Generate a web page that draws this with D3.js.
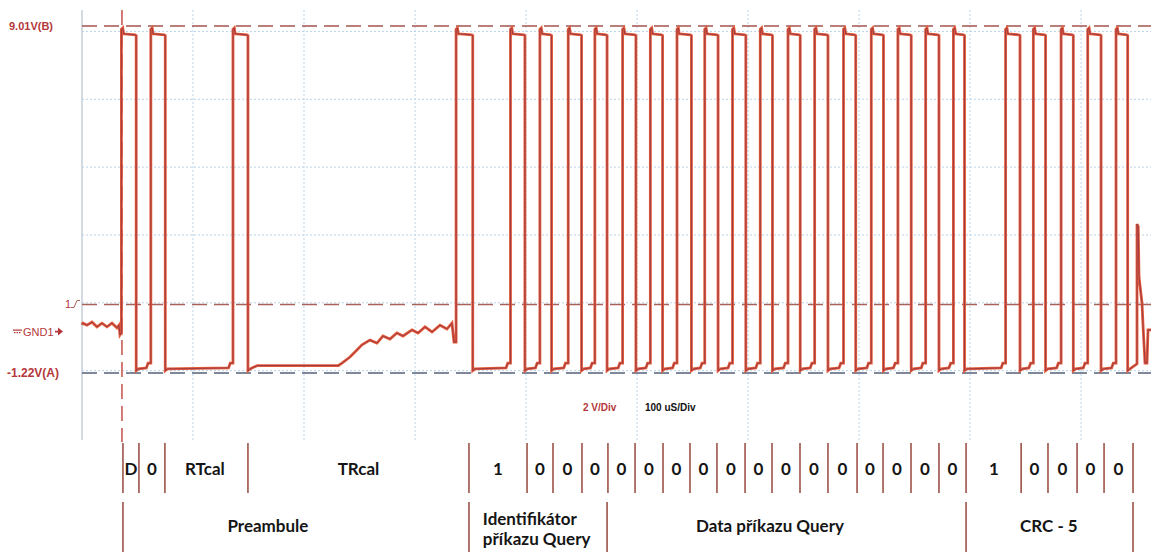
<!DOCTYPE html>
<html lang="cs">
<head>
<meta charset="UTF-8">
<title>Query příkaz - průběh</title>
<script src="https://d3js.org/d3.v7.min.js"></script>
<style>
  body { margin: 0; background: #fff; }
  .lbl { font-family: Lato, "Open Sans", sans-serif; font-weight: 700; font-size: 17px; fill: #151515; }
  .scope { font-family: "Liberation Sans", Arial, sans-serif; font-weight: 700; font-size: 11px; fill: #b4373a; }
</style>
</head>
<body>
<script>
// time in uS (0 = trigger), voltage in V
var preNoise = [[-36, 0.2], [-35.1, 0.25], [-31.5, 0.19], [-27, 0.28], [-22.5, 0.14], [-18, 0.25],
  [-13.5, 0.14], [-9, 0.25], [-4.5, 0.11], [-2.7, 0.19], [-1.8, -0.1], [-0.8, -0.05]];

// [rise, fall] of every high pulse
var pulses = [[-0.5, 12.8], [26, 39], [100, 113.5], [301, 316], [350, 363], [376.5, 387], [402, 414],
  [426, 437], [451, 463], [476, 487], [500, 513], [525, 537], [550, 562], [575, 586], [600, 611],
  [624, 636], [650, 661], [675, 686], [699, 711], [724, 736], [749, 759], [796, 809], [821, 832],
  [846, 857], [870, 882], [895.5, 906]];

var highV = 8.83, lowStartV = -1.1, lowEndV = -0.93;

// slow rise during TRcal (after 3rd pulse)
var trcalRamp = [[118, -1.06], [122, -1.0], [195, -1.0], [198.2, -0.93], [205.4, -0.75], [211.7, -0.54],
  [216.2, -0.39], [223.4, -0.25], [229.7, -0.34], [235.1, -0.13], [241.4, -0.22], [247.7, -0.04],
  [253.2, -0.13], [261.3, 0.05], [266.7, -0.04], [273, 0.14], [279.3, -0.01], [286.5, 0.19],
  [292.8, 0.08], [297.3, 0.25], [299.1, -0.31]];

var tail = [[914.4, -0.95], [914.4, 3.17], [915.5, 3.1], [916.2, 1.61], [918.9, 0.84], [919.8, 0.2],
  [921.6, -0.93], [923.4, -0.93], [924.3, 0.05], [927, 0.05]];

// bit annotation
var bitBounds = [0.9, 15.3, 38.7, 113.5, 312.6, 364.9, 388.3, 414.4, 437.8, 462.2, 487.4, 511.7, 536,
  561.3, 585.6, 610.8, 636, 662.2, 685.6, 710.8, 736, 760.4, 810, 834.2, 860.4, 884.7, 910.8];
var bitLabels = ["D", "0", "RTcal", "TRcal", "1", "0", "0", "0", "0", "0", "0", "0", "0", "0", "0",
  "0", "0", "0", "0", "0", "0", "1", "0", "0", "0", "0"];
var groupBounds = [0.9, 312.6, 437, 760.4, 910.8];
var groupLabels = ["Preambule", "Identifikátor|příkazu Query", "Data příkazu Query", "CRC - 5"];
var groupPos = [131.5, 326, 583.8, 835];

var width = 1151, height = 552;
var svg = d3.select("body").append("svg").attr("width", width).attr("height", height);

var x = d3.scaleLinear().domain([-36, 927]).range([82, 1151]);
var y = d3.scaleLinear().domain([-1.22, 9.01]).range([373, 26]);

var gridT = d3.range(64, 927, 100);
var gridV = [8.85, 6.85, 4.85, 2.85, 0.85, -1.15];

// grid
svg.append("g").selectAll("line").data(gridT).join("line")
  .attr("x1", d => x(d)).attr("x2", d => x(d)).attr("y1", 10).attr("y2", 440)
  .attr("stroke", "#b9d3e8").attr("stroke-width", 1).attr("stroke-dasharray", "2,2");
svg.append("g").selectAll("line").data(gridV).join("line")
  .attr("x1", 82).attr("x2", width).attr("y1", d => y(d)).attr("y2", d => y(d))
  .attr("stroke", "#b9d3e8").attr("stroke-width", 1).attr("stroke-dasharray", "2,2");
svg.append("line").attr("x1", 82).attr("x2", 82).attr("y1", 10).attr("y2", 440)
  .attr("stroke", "#c5cfd8").attr("stroke-width", 1.5);

// cursors
svg.append("line").attr("x1", 82).attr("x2", width).attr("y1", y(9.01)).attr("y2", y(9.01))
  .attr("stroke", "#a3544f").attr("stroke-width", 1.5).attr("stroke-dasharray", "15,7");
svg.append("line").attr("x1", 82).attr("x2", width).attr("y1", y(0.8)).attr("y2", y(0.8))
  .attr("stroke", "#a8605a").attr("stroke-width", 1.5).attr("stroke-dasharray", "15,7");
svg.append("line").attr("x1", 82).attr("x2", width).attr("y1", y(-1.22)).attr("y2", y(-1.22))
  .attr("stroke", "#56617a").attr("stroke-width", 1.5).attr("stroke-dasharray", "15,7");
svg.append("line").attr("x1", x(0)).attr("x2", x(0)).attr("y1", 10).attr("y2", 442)
  .attr("stroke", "#c4504a").attr("stroke-width", 1.5).attr("stroke-dasharray", "15,7");

// waveform points
var pts = preNoise.slice();
pulses.forEach(function(p, i) {
  var r = p[0], f = p[1];
  pts.push([r, pts[pts.length - 1][1]], [r, highV + 0.08], [r + 1.2, highV + 0.12], [r + 2, highV - 0.05],
    [f - 1, highV - 0.08], [f, highV - 0.1], [f, lowStartV - 0.05], [f + 2, lowStartV]);
  if (i === 2) {
    pts = pts.concat(trcalRamp);
  } else if (i < pulses.length - 1) {
    var nr = pulses[i + 1][0];
    pts.push([nr - 4, lowStartV + 0.03], [nr - 2.5, lowEndV], [nr, lowEndV]);
  }
});
pts = pts.concat(tail);

var line = d3.line().x(d => x(d[0])).y(d => y(d[1]));
svg.append("path").datum(pts).attr("d", line).attr("fill", "none")
  .attr("stroke", "#e45a38").attr("stroke-width", 2.8).attr("stroke-linejoin", "miter");
svg.append("path").datum(pts).attr("d", line).attr("fill", "none")
  .attr("stroke", "#8a3448").attr("stroke-width", 0.8);

// scope labels
svg.append("text").attr("class", "scope").attr("x", 9).attr("y", y(9.01) + 4).text("9.01V(B)");
svg.append("text").attr("class", "scope").attr("x", 7).attr("y", y(-1.22) + 4).style("font-size", "12px").text("-1.22V(A)");
svg.append("text").attr("class", "scope").attr("x", 23).attr("y", y(0) + 4).style("font-weight", 400).text("GND1");
var g0 = svg.append("g").attr("stroke", "#b4373a").attr("stroke-width", 1.2);
g0.append("line").attr("x1", 13).attr("x2", 22).attr("y1", y(0) - 1.5).attr("y2", y(0) - 1.5);
g0.append("line").attr("x1", 14).attr("x2", 21).attr("y1", y(0) + 1).attr("y2", y(0) + 1).attr("stroke-dasharray", "1.5,1");
g0.append("line").attr("x1", 55).attr("x2", 61).attr("y1", y(0)).attr("y2", y(0)).attr("stroke-width", 1.8);
svg.append("path").attr("d", "M58," + (y(0) - 4) + " L63," + y(0) + " L58," + (y(0) + 4) + "Z").attr("fill", "#b4373a");
svg.append("text").attr("class", "scope").attr("x", 65).attr("y", y(0.8) + 4).style("font-weight", 400).text("1");
svg.append("path").attr("d", "M71," + (y(0.8) + 3) + " L74," + (y(0.8) + 3) + " L77," + (y(0.8) - 4) + " L80," + (y(0.8) - 4))
  .attr("fill", "none").attr("stroke", "#a8605a").attr("stroke-width", 1);

svg.append("text").attr("class", "scope").attr("x", 583).attr("y", 411).style("font-size", "10px").text("2 V/Div");
svg.append("text").attr("class", "scope").attr("x", 645).attr("y", 411).style("font-size", "10px").style("fill", "#111").text("100 uS/Div");

// bit annotation row
svg.append("g").selectAll("line").data(bitBounds).join("line")
  .attr("x1", d => x(d)).attr("x2", d => x(d)).attr("y1", 443).attr("y2", 493)
  .attr("stroke", "#8e3a2e").attr("stroke-width", 1.4);
svg.append("g").selectAll("text").data(bitLabels).join("text")
  .attr("class", "lbl").attr("text-anchor", "middle")
  .attr("x", (d, i) => {
    if (i === 0) return x(bitBounds[0]) + 8;
    if (i === 1) return x(bitBounds[1]) + 13;
    if (i === 2) return x(bitBounds[2]) + 40;
    if (i === 21) return x(bitBounds[21]) + 28;
    return (x(bitBounds[i]) + x(bitBounds[i + 1])) / 2;
  })
  .attr("y", 475).text(d => d);

// group annotation row
svg.append("g").selectAll("line").data(groupBounds).join("line")
  .attr("x1", d => x(d)).attr("x2", d => x(d)).attr("y1", 502).attr("y2", 552)
  .attr("stroke", "#8e3a2e").attr("stroke-width", 1.4);
groupLabels.forEach(function(t, i) {
  var parts = t.split("|");
  if (parts.length === 1) {
    svg.append("text").attr("class", "lbl").attr("text-anchor", "middle")
      .attr("x", x(groupPos[i])).attr("y", 532).text(t);
  } else {
    svg.append("text").attr("class", "lbl").attr("x", x(groupPos[i]) - 1).attr("y", 525).text(parts[0]);
    svg.append("text").attr("class", "lbl").attr("x", x(groupPos[i]) - 1).attr("y", 545).text(parts[1]);
  }
});
</script>
</body>
</html>
